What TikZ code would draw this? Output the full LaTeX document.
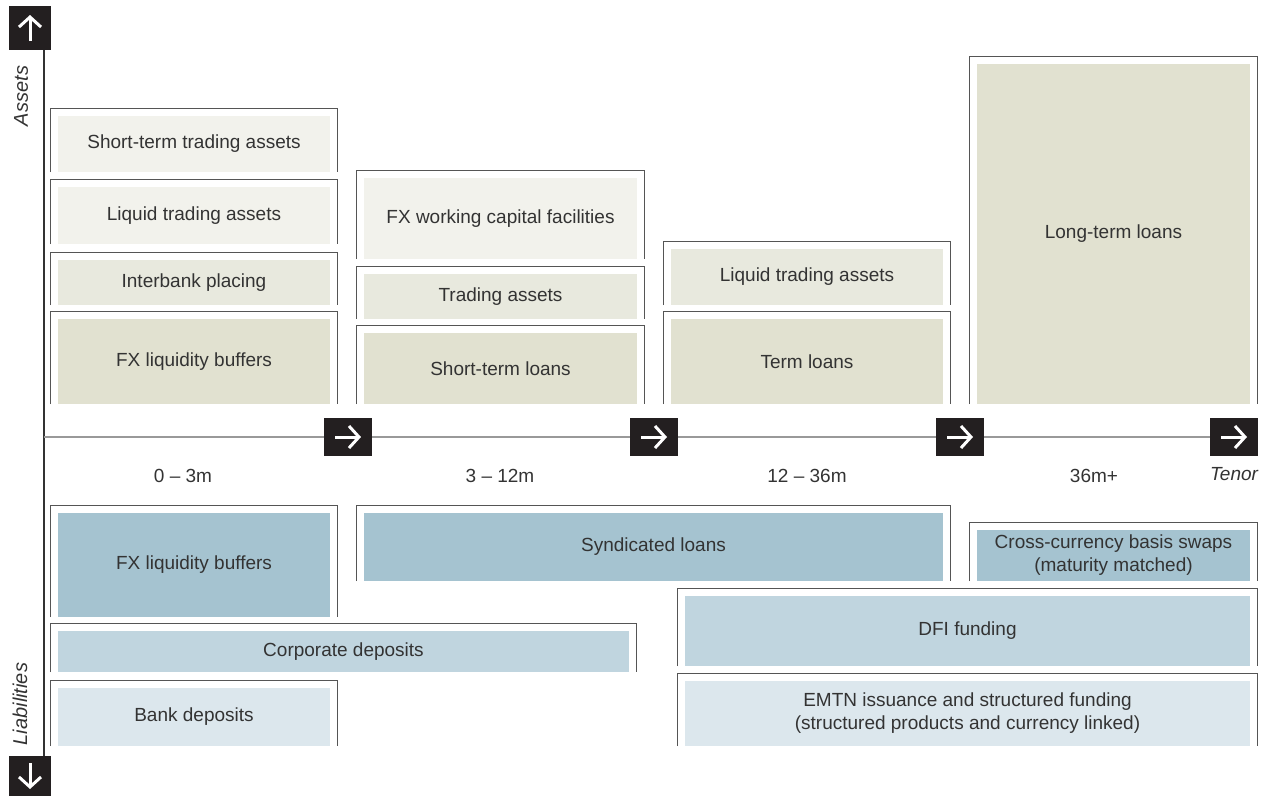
\documentclass[tikz,border=0pt]{standalone}
\usepackage{fontspec}
\setmainfont{Liberation Sans}
\usetikzlibrary{arrows.meta}

\definecolor{txt}{HTML}{333333}
\definecolor{framegray}{HTML}{555555}
\definecolor{boxblack}{HTML}{231F20}
\definecolor{lightfill}{HTML}{F2F2EC}
\definecolor{midfill}{HTML}{E8E9DE}
\definecolor{darkfill}{HTML}{E1E1D0}
\definecolor{bluedark}{HTML}{A5C3D0}
\definecolor{bluemid}{HTML}{C0D5DF}
\definecolor{bluelight}{HTML}{DCE7ED}

\begin{document}
\begin{tikzpicture}[x=1pt,y=-1pt,
    cell/.style={inner sep=0pt, align=center, text=txt, font=\fontsize{19}{23}\selectfont},
    frame/.style={draw=framegray, line width=1.2pt},
    tickbox/.style={fill=boxblack, inner sep=0pt, minimum width=48, minimum height=38},
    chev/.style={white, line width=3pt, -{Straight Barb[length=10pt,width=22pt]}},
    tenorlbl/.style={text=txt, font=\fontsize{19}{23}\selectfont}]
\useasboundingbox (0,0) rectangle (1266,795);

% axes
\node[fill=boxblack, minimum width=42, minimum height=44, inner sep=0pt] (up) at (30,28) {};
\node[fill=boxblack, minimum width=42, minimum height=40, inner sep=0pt] (down) at (30,776) {};
\draw[chev] ([yshift=-13pt]up.center) -- ([yshift=13pt]up.center);
\draw[chev] ([yshift=13pt]down.center) -- ([yshift=-13pt]down.center);
\draw[draw=txt, line width=1.3pt] ([xshift=14pt]up.south) -- ([xshift=14pt]down.north);
\node[rotate=90, text=txt, font=\fontsize{20}{24}\selectfont\itshape] (assets) at (21,96) {Assets};
\node[rotate=90, text=txt, font=\fontsize{20}{24}\selectfont\itshape] (liab) at (20,704) {Liabilities};

\coordinate (o) at (44,437);
\node[tickbox] (t1) at (348,437) {};
\node[tickbox] (t2) at (654,437) {};
\node[tickbox] (t3) at (960,437) {};
\node[tickbox] (t4) at (1234,437) {};
\draw[draw=gray!80, line width=1.5pt] (o) -- (t1.west);
\draw[draw=gray!80, line width=1.5pt] (t1.east) -- (t2.west);
\draw[draw=gray!80, line width=1.5pt] (t2.east) -- (t3.west);
\draw[draw=gray!80, line width=1.5pt] (t3.east) -- (t4.west);
\draw[chev] ([xshift=-13pt]t1.center) -- ([xshift=13pt]t1.center);
\draw[chev] ([xshift=-13pt]t2.center) -- ([xshift=13pt]t2.center);
\draw[chev] ([xshift=-13pt]t3.center) -- ([xshift=13pt]t3.center);
\draw[chev] ([xshift=-13pt]t4.center) -- ([xshift=13pt]t4.center);

\node[tenorlbl] (l1) at (183,476) {0 -- 3m};
\node[tenorlbl] (l2) at (500,476) {3 -- 12m};
\node[tenorlbl] (l3) at (807,476) {12 -- 36m};
\node[tenorlbl] (l4) at (1094,476) {36m+};
\node[tenorlbl, font=\fontsize{19}{23}\selectfont\itshape] (tenor) at (1234,474) {Tenor};

% assets
\node[cell, fill=lightfill, minimum width=272, minimum height=56] (stta) at (194,144) {Short-term trading assets};
\node[cell, fill=lightfill, minimum width=272, minimum height=57] (lta) at (194,215.5) {Liquid trading assets};
\node[cell, fill=midfill, minimum width=272, minimum height=45] (ibp) at (194,282.5) {Interbank placing};
\node[cell, fill=darkfill, minimum width=272, minimum height=85] (fxlb) at (194,361.5) {FX liquidity buffers};
\node[cell, fill=lightfill, minimum width=273, minimum height=81] (fxwc) at (500.5,218.5) {FX working capital facilities};
\node[cell, fill=midfill, minimum width=273, minimum height=45] (ta) at (500.5,296.5) {Trading assets};
\node[cell, fill=darkfill, minimum width=273, minimum height=71] (stl) at (500.5,368.5) {Short-term loans};
\node[cell, fill=midfill, minimum width=272, minimum height=56] (ltab) at (807,277) {Liquid trading assets};
\node[cell, fill=darkfill, minimum width=272, minimum height=85] (tl) at (807,361.5) {Term loans};
\node[cell, fill=darkfill, minimum width=273, minimum height=340] (ltl) at (1113.5,234) {Long-term loans};

\draw[frame] ([xshift=-7pt]stta.south west) |- ([shift={(7pt,7pt)}]stta.north east) -- ([xshift=7pt]stta.south east);
\draw[frame] ([xshift=-7pt]lta.south west) |- ([shift={(7pt,7pt)}]lta.north east) -- ([xshift=7pt]lta.south east);
\draw[frame] ([xshift=-7pt]ibp.south west) |- ([shift={(7pt,7pt)}]ibp.north east) -- ([xshift=7pt]ibp.south east);
\draw[frame] ([xshift=-7pt]fxlb.south west) |- ([shift={(7pt,7pt)}]fxlb.north east) -- ([xshift=7pt]fxlb.south east);
\draw[frame] ([xshift=-7pt]fxwc.south west) |- ([shift={(7pt,7pt)}]fxwc.north east) -- ([xshift=7pt]fxwc.south east);
\draw[frame] ([xshift=-7pt]ta.south west) |- ([shift={(7pt,7pt)}]ta.north east) -- ([xshift=7pt]ta.south east);
\draw[frame] ([xshift=-7pt]stl.south west) |- ([shift={(7pt,7pt)}]stl.north east) -- ([xshift=7pt]stl.south east);
\draw[frame] ([xshift=-7pt]ltab.south west) |- ([shift={(7pt,7pt)}]ltab.north east) -- ([xshift=7pt]ltab.south east);
\draw[frame] ([xshift=-7pt]tl.south west) |- ([shift={(7pt,7pt)}]tl.north east) -- ([xshift=7pt]tl.south east);
\draw[frame] ([xshift=-7pt]ltl.south west) |- ([shift={(7pt,7pt)}]ltl.north east) -- ([xshift=7pt]ltl.south east);

% liabilities
\node[cell, fill=bluedark, minimum width=272, minimum height=104] (fxlbl) at (194,565) {FX liquidity buffers};
\node[cell, fill=bluedark, minimum width=579, minimum height=68] (synd) at (653.5,547) {Syndicated loans};
\node[cell, fill=bluedark, minimum width=273, minimum height=51] (ccbs) at (1113.5,555.5) {Cross-currency basis swaps\\(maturity matched)};
\node[cell, fill=bluemid, minimum width=571, minimum height=41] (cd) at (343.5,651.5) {Corporate deposits};
\node[cell, fill=bluemid, minimum width=565, minimum height=70] (dfi) at (967.5,631) {DFI funding};
\node[cell, fill=bluelight, minimum width=272, minimum height=58] (bd) at (194,717) {Bank deposits};
\node[cell, fill=bluelight, minimum width=565, minimum height=65] (emtn) at (967.5,713.5) {EMTN issuance and structured funding\\(structured products and currency linked)};

\draw[frame] ([xshift=-7pt]fxlbl.south west) |- ([shift={(7pt,7pt)}]fxlbl.north east) -- ([xshift=7pt]fxlbl.south east);
\draw[frame] ([xshift=-7pt]synd.south west) |- ([shift={(7pt,7pt)}]synd.north east) -- ([xshift=7pt]synd.south east);
\draw[frame] ([xshift=-7pt]ccbs.south west) |- ([shift={(7pt,7pt)}]ccbs.north east) -- ([xshift=7pt]ccbs.south east);
\draw[frame] ([xshift=-7pt]cd.south west) |- ([shift={(7pt,7pt)}]cd.north east) -- ([xshift=7pt]cd.south east);
\draw[frame] ([xshift=-7pt]dfi.south west) |- ([shift={(7pt,7pt)}]dfi.north east) -- ([xshift=7pt]dfi.south east);
\draw[frame] ([xshift=-7pt]bd.south west) |- ([shift={(7pt,7pt)}]bd.north east) -- ([xshift=7pt]bd.south east);
\draw[frame] ([xshift=-7pt]emtn.south west) |- ([shift={(7pt,7pt)}]emtn.north east) -- ([xshift=7pt]emtn.south east);
\end{tikzpicture}
\end{document}
